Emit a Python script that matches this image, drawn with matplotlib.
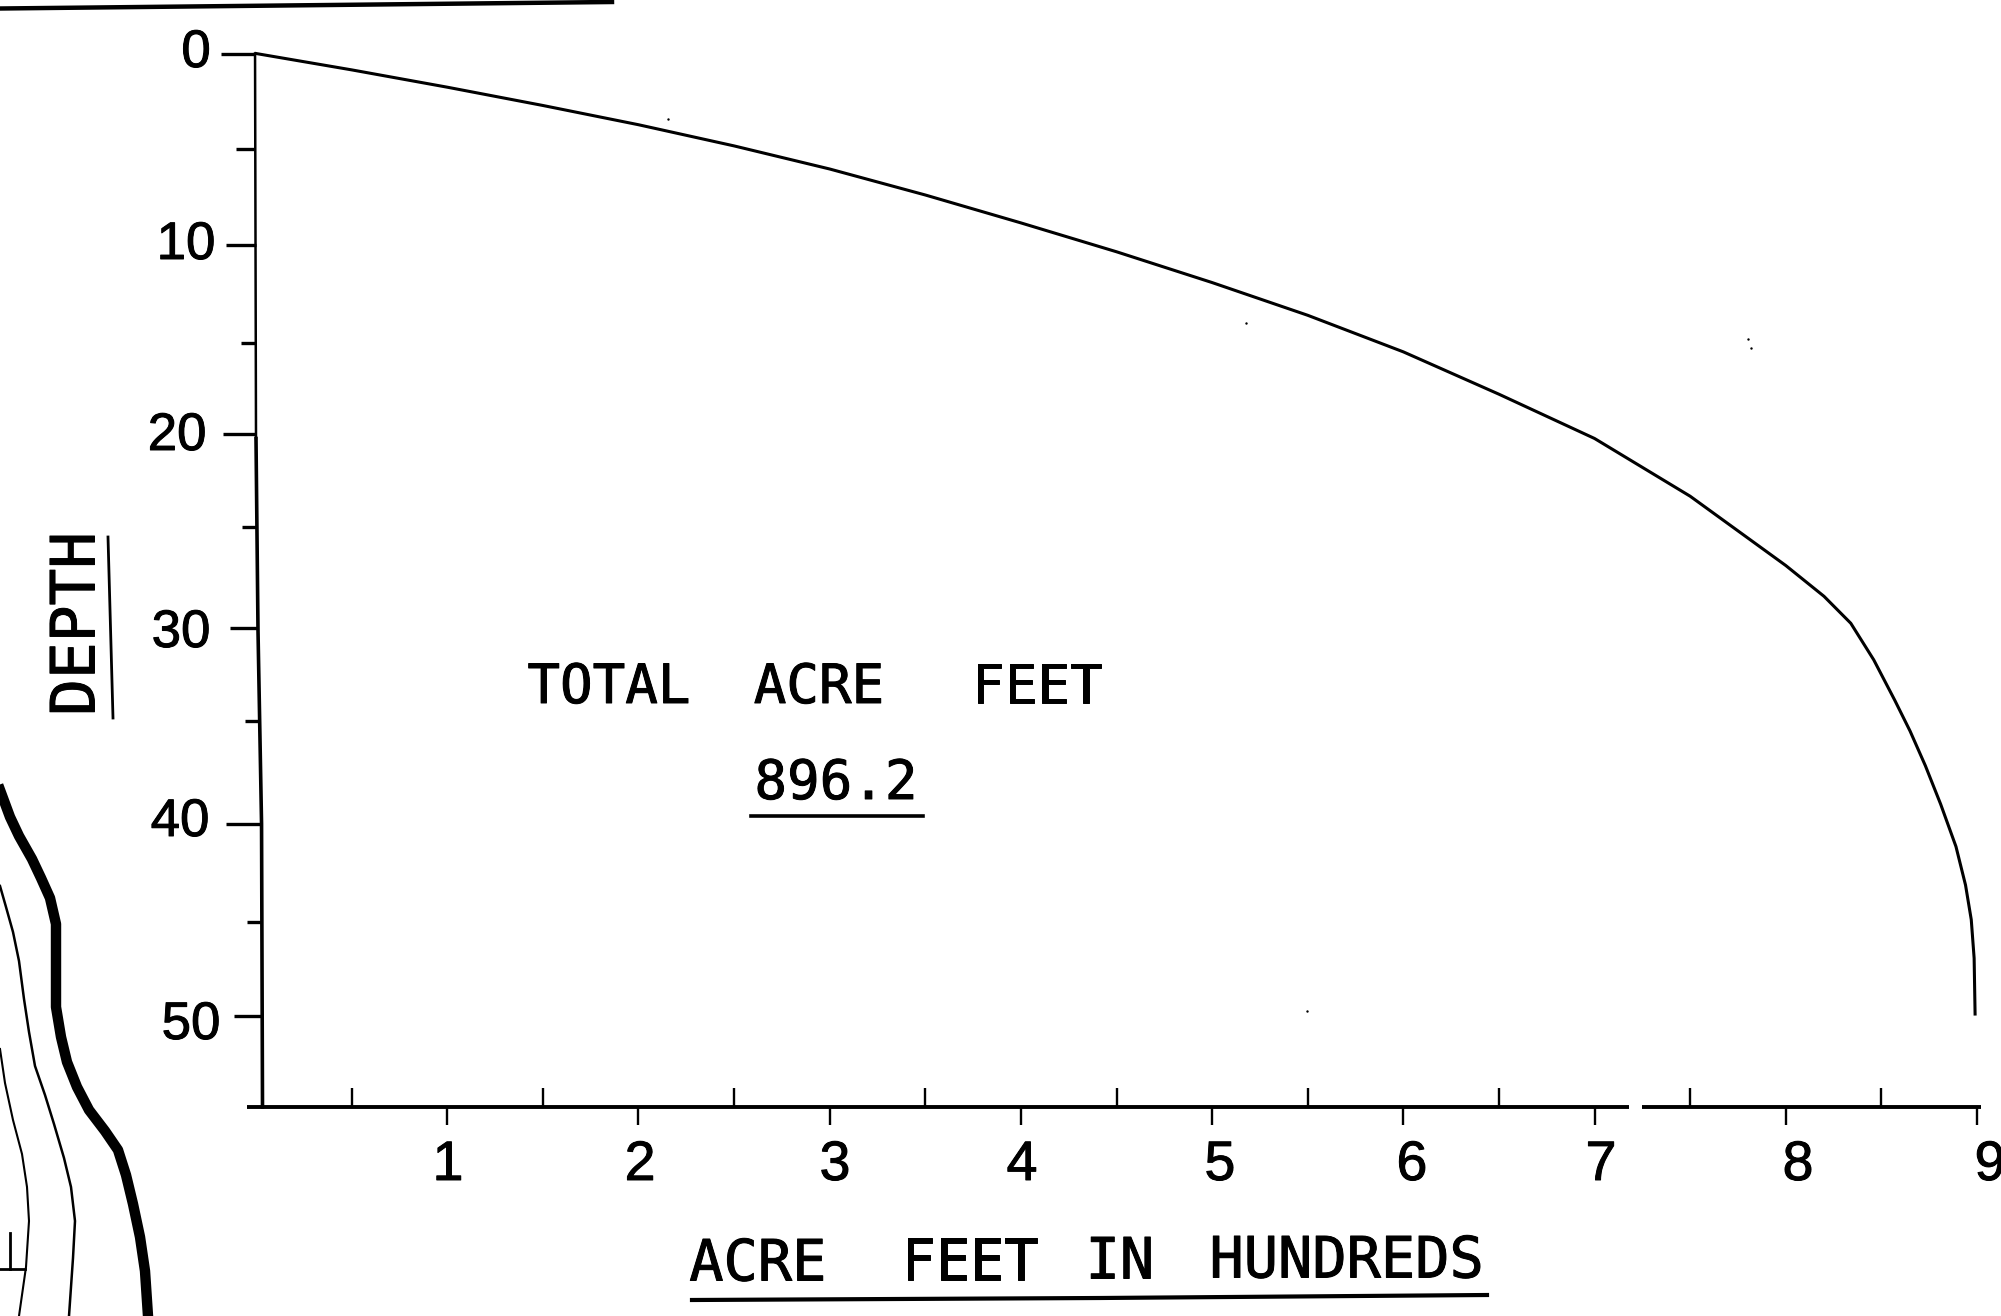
import numpy as np
import matplotlib
matplotlib.use("Agg")
import matplotlib.pyplot as plt
from matplotlib import patheffects as pe

plt.rcParams["font.family"] = ["Liberation Sans", "DejaVu Sans"]

W, H = 2001, 1316

# Storage curve
acre_feet = [0, 0.5, 1, 1.5, 2, 2.5, 3, 3.5, 4, 4.5, 5, 5.5, 6, 6.5, 7, 7.5, 8, 8.2,
             8.34, 8.46, 8.57, 8.65, 8.73, 8.81, 8.89, 8.94, 8.97, 8.985, 8.99]
depth = [0, 0.85, 1.75, 2.7, 3.7, 4.8, 6.0, 7.35, 8.8, 10.3, 11.9, 13.6, 15.5, 17.7,
         20.0, 23.0, 26.6, 28.2, 29.6, 31.5, 33.6, 35.2, 37, 39, 41.2, 43.2, 45, 47, 49.9]

# Hand drawn depth axis, it leans a little to the right going down
axis_depth = [0, 20, 30, 40, 54.73]
axis_x = [-0.005, 0, 0.0105, 0.029, 0.034]
depth_ticks = [0, 4.94, 9.95, 15.04, 19.77, 24.6, 29.84, 34.66, 40.03, 45.12, 50.0]
depth_tick_left = [-0.183, -0.105, -0.157, -0.078, -0.173, -0.073, -0.136,
                   -0.058, -0.157, -0.047, -0.115]

x_major = [1, 2, 3, 4, 5, 6, 7, 8, 9]
x_minor = [0.5, 1.5, 2.5, 3.5, 4.5, 5.5, 6.5, 7.5, 8.5, 9]
x_axis_parts = [(-0.047, 7.18), (7.25, 9.02)]

# Labels, in pixels of the scanned page
y_labels = ["0", "10", "20", "30", "40", "50"]
y_label_x = [196, 186, 177, 181, 180, 191]
y_label_y = [53, 245, 436, 633, 822, 1025]
x_labels = ["1", "2", "3", "4", "5", "6", "7", "8", "9"]
x_label_x = [448, 640, 835, 1022, 1220, 1412, 1601, 1798, 1990]
x_label_y = 1166
total_words = ["TOTAL", "ACRE", "FEET"]
total_x = [609, 819, 1037]
title_words = ["ACRE", "FEET", "IN", "HUNDREDS"]
title_x = [758, 970, 1120, 1347]
title_y = [1265, 1264, 1263, 1262]

# Bits of the neighbouring map left on the scan
map_thick_x = [0, 10, 19, 32, 41, 50, 56, 56, 56, 61, 67, 77, 89, 105, 118, 126, 133, 140, 145, 148]
map_thick_y = [790, 817, 836, 859, 878, 898, 924, 961, 1007, 1037, 1062, 1087, 1110, 1131,
               1150, 1175, 1204, 1237, 1271, 1316]
map_mid_x = [0, 6, 13, 19, 24, 29, 35, 45, 54, 64, 71, 75, 73, 69]
map_mid_y = [886, 907, 932, 961, 999, 1032, 1066, 1095, 1124, 1158, 1187, 1221, 1258, 1316]
map_thin_x = [0, 5, 13, 22, 27, 29, 26, 19]
map_thin_y = [1049, 1083, 1120, 1154, 1187, 1221, 1267, 1316]
speck_x = [668, 1246, 1748, 1751, 1307]
speck_y = [119, 323, 339, 348, 1011]

fig = plt.figure(figsize=(W / 100, H / 100), dpi=100)

# Page overlay for text and scan leftovers
page = fig.add_axes([0, 0, 1, 1])
page.set_xlim(0, W)
page.set_ylim(H, 0)
page.axis("off")

# Chart axes
ax = fig.add_axes([256 / W, (H - 1107) / H, (1977 - 256) / W, (1107 - 53.5) / H])
ax.patch.set_alpha(0)
ax.set_xlim(0, 9)
ax.set_ylim(54.73, 0)
for s in ax.spines.values():
    s.set_visible(False)

ax.plot(acre_feet, depth, color="k", lw=2.2, clip_on=False)

# Depth axis
ax.plot(axis_x[:2], axis_depth[:2], color="k", lw=1.8, clip_on=False)
ax.plot(axis_x[1:], axis_depth[1:], color="k", lw=2.6, clip_on=False)
ax.hlines(depth_ticks, depth_tick_left, np.interp(depth_ticks, axis_depth, axis_x),
          color="k", lw=2.4, clip_on=False)
ax.set_yticks([])

# Acre feet axis, broken after 7 like the original
for x0, x1 in x_axis_parts:
    ax.plot([x0, x1], [54.73, 54.73], color="k", lw=2.8, clip_on=False,
            solid_capstyle="butt")
ax.set_xticks(x_major)
ax.set_xticks(x_minor, minor=True)
ax.set_xticklabels([])
ax.tick_params(axis="x", which="major", direction="out", length=13, width=1.7)
ax.tick_params(axis="x", which="minor", direction="in", length=14, width=1.7)

# Ink on the lettering is heavier than the plain fonts
ink = [pe.withStroke(linewidth=0.7, foreground="k")]

for lab, x, y in zip(y_labels, y_label_x, y_label_y):
    page.text(x, y, lab, fontsize=38, ha="center", va="center", path_effects=ink)
for lab, x in zip(x_labels, x_label_x):
    page.text(x, x_label_y, lab, fontsize=40, ha="center", va="center", path_effects=ink)

mono = "DejaVu Sans Mono"
for word, x in zip(total_words, total_x):
    page.text(x, 688, word, family=mono, fontsize=39, ha="center", va="center", path_effects=ink)
page.text(836, 784, "896.2", family=mono, fontsize=39, ha="center", va="center", path_effects=ink)
page.plot([751, 923], [816, 816], color="k", lw=2.6)

for word, x, y in zip(title_words, title_x, title_y):
    page.text(x, y, word, family=mono, fontsize=41, ha="center", va="center", path_effects=ink)
page.plot([692, 1100, 1487], [1300, 1298, 1295], color="k", lw=3)

page.text(78, 624, "DEPTH", family=mono, fontsize=44, rotation=90, ha="center", va="center",
          path_effects=ink)
page.plot([108, 113], [537, 718], color="k", lw=2)

# Rule at the top of the page
page.plot([0, 612], [8.5, 2], color="k", lw=3.2)

# Map edge on the lower left
page.plot(map_thick_x, map_thick_y, color="k", lw=7.5)
page.plot(map_mid_x, map_mid_y, color="k", lw=1.8)
page.plot(map_thin_x, map_thin_y, color="k", lw=1.5)
page.plot([0, 25], [1269, 1269], color="k", lw=2)
page.plot([10, 10], [1233, 1269], color="k", lw=2)
page.scatter(speck_x, speck_y, s=3, color="k", lw=0)

fig.savefig("out.png", dpi=100)
